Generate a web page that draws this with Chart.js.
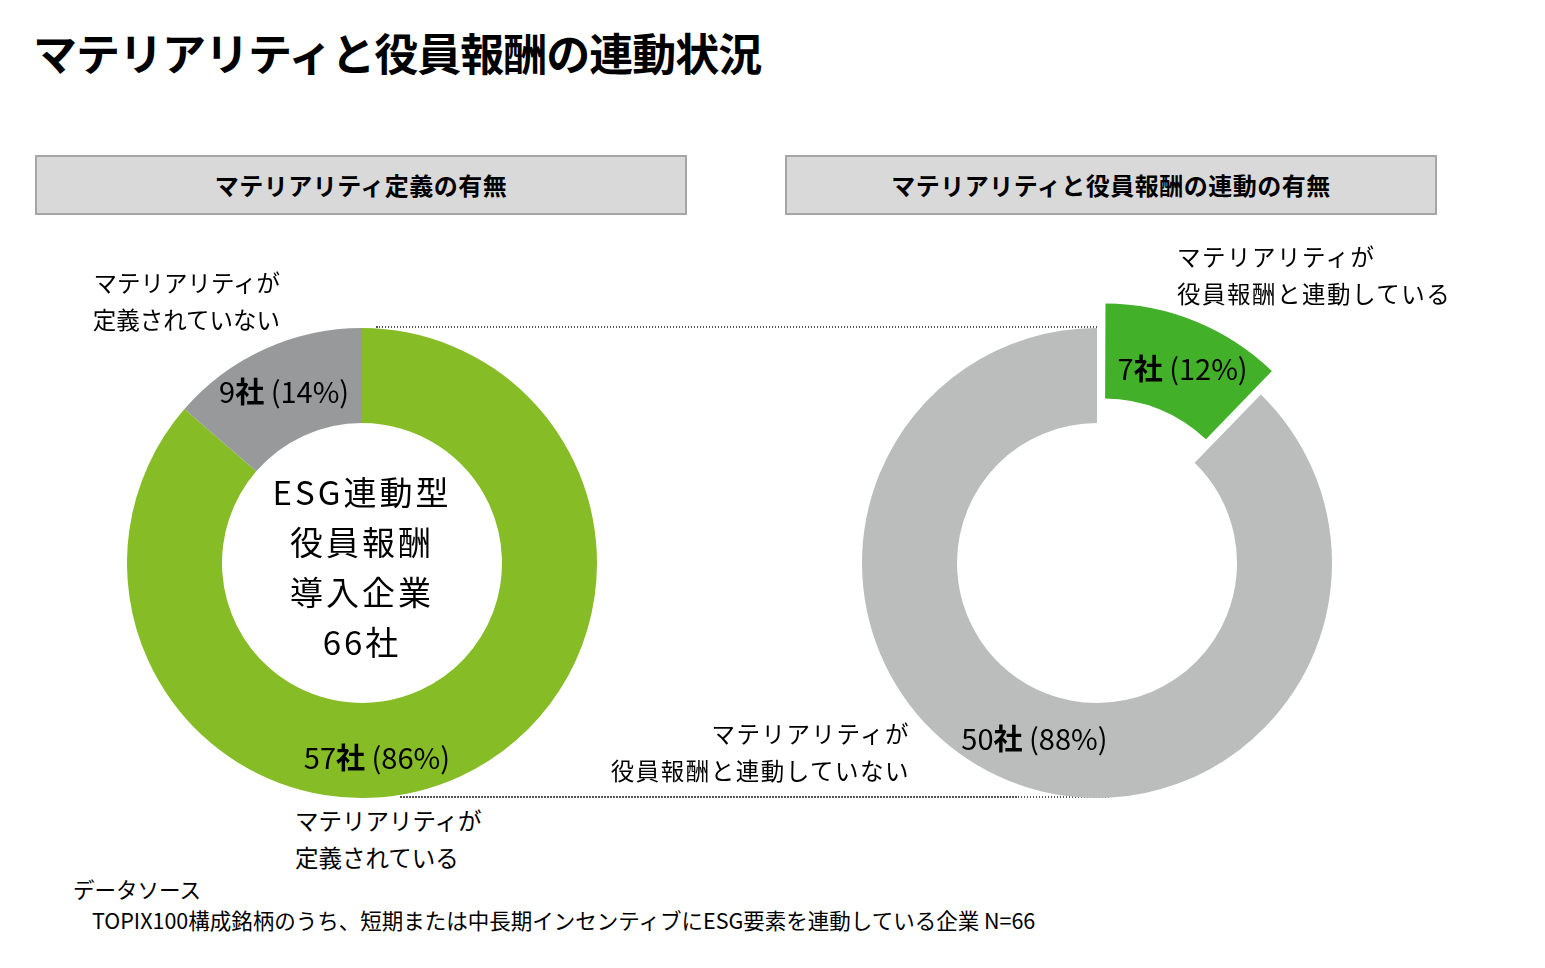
<!DOCTYPE html>
<html lang="ja">
<head>
<meta charset="utf-8">
<script src="https://cdn.jsdelivr.net/npm/chart.js@4.4.1/dist/chart.umd.min.js"></script>
<style>
  html, body { margin: 0; padding: 0; background: #fff; }
  body { width: 1545px; height: 968px; position: relative; overflow: hidden;
         font-family: "Noto Sans CJK JP", "Noto Sans", sans-serif; color: #000; }
  .abs { position: absolute; }
  .title { left: 33px; top: 20px; font-size: 44px; font-weight: 700; letter-spacing: -1px; white-space: nowrap; }
  .head { top: 155px; width: 648px; height: 56px; background: #d9d9d9; border: 2px solid #a6a6a6;
          box-sizing: content-box; font-size: 24px; font-weight: 700; text-align: center; line-height: 56px; letter-spacing: 0.5px; }
  .lbl { font-size: 23.5px; line-height: 37px; white-space: nowrap; }
  .center { left: 222px; top: 466px; width: 280px; text-align: center; font-size: 33px; line-height: 50px; letter-spacing: 3px; }
  .dots { height: 2px; background: repeating-linear-gradient(to right, #555 0 1.5px, transparent 1.5px 3px); }
  .src { font-size: 21.5px; white-space: nowrap; }
</style>
</head>
<body>
<script>
// マテリアリティ定義の有無
const defLabels = ['マテリアリティが定義されている', 'マテリアリティが定義されていない'];
const defValues = [57, 9];
const defColors = ['#86bc25', '#97999b'];

// マテリアリティと役員報酬の連動の有無
const linkLabels = ['マテリアリティが役員報酬と連動している', 'マテリアリティが役員報酬と連動していない'];
const linkValues = [7, 50];
const linkColors = ['#43b02a', '#bbbcbc'];

const totalCompanies = 66;
</script>

<div class="abs title">マテリアリティと役員報酬の連動状況</div>
<div class="abs head" style="left:35px;">マテリアリティ定義の有無</div>
<div class="abs head" style="left:785px;">マテリアリティと役員報酬の連動の有無</div>

<div class="abs dots" style="left:376px; top:326px; width:722px;"></div>
<div class="abs dots" style="left:400px; top:796px; width:710px;"></div>

<canvas id="defChart" class="abs" style="left:127px; top:328px;" width="470" height="470"></canvas>
<!-- 切り出しスライス分だけキャンバスを広げる (470 + offset) -->
<canvas id="linkChart" class="abs" style="left:822px; top:288px;" width="550" height="550"></canvas>

<div class="abs center" id="centerText"></div>

<div class="abs lbl" style="right:1265px; top:264px; text-align:right;">マテリアリティが<br>定義されていない</div>
<div class="abs lbl" style="left:295px; top:802px;">マテリアリティが<br>定義されている</div>
<div class="abs lbl" style="left:1177px; top:238px; letter-spacing:1.5px;">マテリアリティが<br>役員報酬と連動している</div>
<div class="abs lbl" style="right:635px; top:715px; text-align:right; letter-spacing:1.5px;">マテリアリティが<br>役員報酬と連動していない</div>

<div class="abs src" style="left:73px; top:873px;">データソース</div>
<div class="abs src" style="left:92px; top:904px;">TOPIX100構成銘柄のうち、短期または中長期インセンティブにESG要素を連動している企業 N=66</div>

<script>
document.getElementById('centerText').innerHTML =
  'ESG連動型<br>役員報酬<br>導入企業<br>' + totalCompanies + '社';

const FONT = '"Noto Sans CJK JP", "Noto Sans", sans-serif';

// 各スライスに「N社 (xx%)」を描く（社だけ太字）
const sliceLabels = {
  id: 'sliceLabels',
  afterDatasetsDraw(chart, args, opts) {
    const ctx = chart.ctx;
    const ds = chart.data.datasets[0];
    const total = ds.data.reduce((a, b) => a + b, 0);
    const meta = chart.getDatasetMeta(0);
    meta.data.forEach((arc, i) => {
      const p = arc.tooltipPosition();
      const nudge = (opts.nudge && opts.nudge[i]) || [0, 0];
      const v = ds.data[i];
      const pct = Math.round(v / total * 100);
      const parts = [
        { t: String(v), w: 400 },
        { t: '社', w: 700 },
        { t: ' (' + pct + '%)', w: 400 }
      ];
      ctx.save();
      ctx.textBaseline = 'middle';
      ctx.fillStyle = '#000';
      let width = 0;
      parts.forEach(pt => { ctx.font = pt.w + ' 29px ' + FONT; pt.m = ctx.measureText(pt.t).width; width += pt.m; });
      let x = p.x + nudge[0] - width / 2;
      const y = p.y + nudge[1];
      parts.forEach(pt => {
        ctx.font = pt.w + ' 29px ' + FONT;
        ctx.fillText(pt.t, x, y);
        x += pt.m;
      });
      ctx.restore();
    });
  }
};

function ring(id, labels, values, colors, offsets, nudge) {
  return new Chart(document.getElementById(id), {
    type: 'doughnut',
    data: {
      labels: labels,
      datasets: [{
        data: values,
        backgroundColor: colors,
        borderWidth: 0,
        hoverOffset: 0,
        offset: offsets
      }]
    },
    options: {
      responsive: false,
      animation: false,
      events: [],
      cutout: 140,
      rotation: 0,
      layout: { padding: 0 },
      plugins: {
        legend: { display: false },
        tooltip: { enabled: false },
        sliceLabels: { nudge: nudge }
      }
    },
    plugins: [sliceLabels]
  });
}

ring('defChart', defLabels, defValues, defColors, [0, 0], [[-63, 24], [0, 0]]);
ring('linkChart', linkLabels, linkValues, linkColors, [80, 0], [[0, 17], [8, 2]]);
</script>
</body>
</html>
